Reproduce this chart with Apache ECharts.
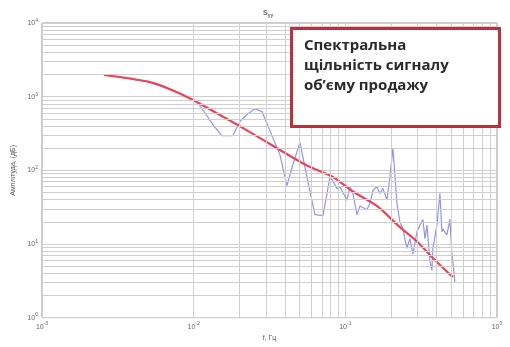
<!DOCTYPE html>
<html>
<head>
<meta charset="utf-8">
<script src="https://cdn.jsdelivr.net/npm/echarts@6/dist/echarts.min.js"></script>
<style>
  html, body { margin: 0; padding: 0; background: #fff; }
  #chart { width: 510px; height: 347px; }
</style>
</head>
<body>
<div id="chart"></div>
<script>
// Smoothed spectral density (fit)
const fitFreq = [0.002564, 0.0050, 0.00731, 0.0099, 0.0235, 0.0542, 0.0828, 0.1122, 0.1614, 0.2291, 0.2964, 0.3776, 0.5117];
const fitVals = [1968, 1596, 1216, 899, 330, 120, 81, 51.5, 32.8, 16.9, 10.8, 6.46, 3.54];

// Raw spectral density estimate
const rawFreq = [0.002564, 0.0050, 0.00731, 0.0099, 0.0106, 0.01187, 0.01361, 0.01537, 0.01816, 0.0202, 0.02246,
  0.02536, 0.0282, 0.03184, 0.03707, 0.04121, 0.04513, 0.0502, 0.05583, 0.06304, 0.07117,
  0.07915, 0.0828, 0.088, 0.0921, 0.1024, 0.1072, 0.1122, 0.1193, 0.1248, 0.1388,
  0.1453, 0.152, 0.1614, 0.1691, 0.177, 0.188, 0.1968, 0.2060, 0.2188, 0.2291,
  0.2397, 0.2547, 0.2666, 0.2791, 0.2964, 0.3103, 0.3248, 0.3348, 0.3451, 0.3612,
  0.3724, 0.3776, 0.4017, 0.4205, 0.4335, 0.4398, 0.4674, 0.4892, 0.5043, 0.5117, 0.5279];
const rawVals = [1968, 1596, 1216, 899, 840, 600, 399, 296, 296, 464, 573,
  686, 627, 343, 162, 61.8, 120, 239, 81, 25.0, 24.3,
  81, 71.8, 56.4, 60, 39.3, 60, 48.6, 25.0, 32.8, 29.1,
  35.9, 53.1, 60, 48.6, 56.4, 39.3, 81, 200, 35.9, 19.7,
  15.9, 8.73, 11.8, 7.29, 14.6, 18.0, 21.5, 11.8, 18.0, 5.90,
  4.37, 8.73, 18.0, 48.6, 14.6, 15.9, 13.3, 21.5, 7.29, 5.90, 2.96];

// Axis ranges (decades)
const xDecades = [-3, -2, -1, 0];
const yDecades = [0, 1, 2, 3, 4];

const titleText = '{b|S}{s|yy}';
const xName = 'f, Гц';
const yName = 'Амплітуда, (дБ)';
const noteLines = ['Спектральна', 'щільність сигналу', 'об’єму продажу'];

const gridColor = '#cfcfcf';

function pairs(xs, ys) { return xs.map((x, i) => [x, ys[i]]); }

// Minor grid lines at 2..9 × 10^k inside each decade
function minorLines(decades, key) {
  const out = [];
  for (let i = 0; i < decades.length - 1; i++) {
    for (let k = 2; k <= 9; k++) {
      const o = {}; o[key] = k * Math.pow(10, decades[i]);
      out.push(o);
    }
  }
  return out;
}

function powLabel(v) {
  const e = Math.round(Math.log10(v));
  return '{b|10}{s|' + e + '}';
}

const tickRich = {
  b: { fontSize: 7, color: '#666', fontFamily: 'Liberation Sans' },
  s: { fontSize: 5, color: '#666', fontFamily: 'Liberation Sans', verticalAlign: 'top', padding: [0, 0, 5, 0] }
};

const chart = echarts.init(document.getElementById('chart'), null, { renderer: 'canvas' });

chart.setOption({
  animation: false,
  backgroundColor: '#fff',
  title: {
    text: titleText,
    left: 258, top: 4,
    textStyle: {
      rich: {
        b: { fontSize: 7, color: '#666', fontFamily: 'Liberation Sans' },
        s: { fontSize: 5, color: '#666', fontFamily: 'Liberation Sans', verticalAlign: 'bottom', padding: [4, 0, 0, 0] }
      }
    }
  },
  grid: {
    left: 42, right: 13, top: 23, bottom: 18,
    show: true, borderColor: '#999', borderWidth: 1, backgroundColor: '#fff'
  },
  xAxis: {
    type: 'log', logBase: 10,
    min: Math.pow(10, xDecades[0]), max: Math.pow(10, xDecades[xDecades.length - 1]),
    interval: 1,
    name: xName, nameLocation: 'middle', nameGap: 12,
    nameTextStyle: { fontSize: 7, color: '#555', fontFamily: 'Liberation Sans' },
    axisLine: { show: false },
    axisTick: { show: false },
    axisLabel: { formatter: powLabel, rich: tickRich, margin: 4 },
    splitLine: { show: true, lineStyle: { color: gridColor, width: 1 } }
  },
  yAxis: {
    type: 'log', logBase: 10,
    min: Math.pow(10, yDecades[0]), max: Math.pow(10, yDecades[yDecades.length - 1]),
    interval: 1,
    name: yName, nameLocation: 'middle', nameGap: 24,
    nameTextStyle: { fontSize: 7, color: '#555', fontFamily: 'Liberation Sans' },
    axisLine: { show: false },
    axisTick: { show: false },
    axisLabel: { formatter: powLabel, rich: tickRich, margin: 4 },
    splitLine: { show: true, lineStyle: { color: gridColor, width: 1 } }
  },
  series: [
    {
      // carrier for the minor grid
      type: 'line', data: [[fitFreq[0], fitVals[0]]], showSymbol: false, silent: true,
      lineStyle: { opacity: 0 }, z: 0,
      markLine: {
        silent: true, symbol: 'none', label: { show: false },
        lineStyle: { color: gridColor, width: 1, type: 'solid' },
        animation: false,
        data: minorLines(xDecades, 'xAxis').concat(minorLines(yDecades, 'yAxis'))
      }
    },
    {
      type: 'line', data: pairs(rawFreq, rawVals), showSymbol: false, z: 2,
      lineStyle: { color: '#9494e8', width: 1.2, type: 'solid' }
    },
    {
      type: 'line', data: pairs(fitFreq, fitVals), showSymbol: false, z: 3,
      smooth: 0.3,
      lineStyle: { color: '#e8455a', width: 2.2, type: 'solid' }
    }
  ],
  graphic: [
    {
      type: 'rect', left: 290, top: 27, z: 10,
      shape: { width: 208, height: 98 },
      style: { fill: '#fff', stroke: '#b3343f', lineWidth: 3 }
    },
    {
      type: 'text', left: 304, top: 36, z: 11,
      style: {
        text: noteLines.join('\n'),
        fill: '#2a2a2a', font: 'bold 15px "Open Sans", "Liberation Sans", sans-serif',
        lineHeight: 20
      }
    }
  ]
});
</script>
</body>
</html>
